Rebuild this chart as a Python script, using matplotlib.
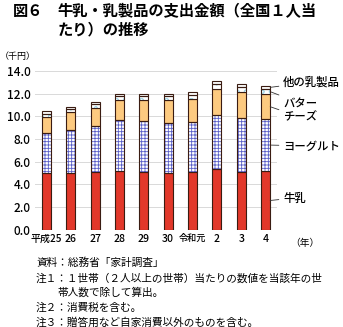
import matplotlib
matplotlib.use('Agg')
import matplotlib.pyplot as plt
import numpy as np

plt.rcParams['font.family'] = ['Noto Sans CJK JP', 'DejaVu Sans']
plt.rcParams['hatch.linewidth'] = 0.6

# データ（千円）
years = ['平成25', '26', '27', '28', '29', '30', '令和元', '2', '3', '4']
milk = [5.00, 5.00, 5.12, 5.18, 5.09, 5.00, 5.09, 5.35, 5.09, 5.18]
yogurt = [3.53, 3.79, 4.03, 4.50, 4.50, 4.41, 4.44, 4.74, 4.76, 4.58]
cheese = [1.41, 1.59, 1.59, 1.76, 1.85, 2.03, 2.03, 2.32, 2.30, 2.18]
butter = [0.30, 0.26, 0.31, 0.33, 0.33, 0.33, 0.36, 0.44, 0.45, 0.47]
other = [0.20, 0.18, 0.21, 0.23, 0.23, 0.23, 0.23, 0.27, 0.28, 0.29]
labels = ['牛乳', 'ヨーグルト', 'チーズ', 'バター', '他の乳製品']

fig = plt.figure(figsize=(3.43, 3.27), dpi=100)
ax = fig.add_axes([0.102, 0.297, 0.706, 0.486])

x = np.arange(len(years))
w = 0.37
edge = '#3a1c12'

series = [milk, yogurt, cheese, butter, other]
bottom = np.zeros(len(years))
for i, vals in enumerate(series):
    vals = np.array(vals)
    if i == 0:
        ax.bar(x, vals, w, bottom=bottom, color='#e2382a', edgecolor=edge, linewidth=0.8, zorder=3)
    elif i == 1:
        ax.bar(x, vals, w, bottom=bottom, color='white', edgecolor='#5a5fc8', hatch='+++++', linewidth=0, zorder=3)
        ax.bar(x, vals, w, bottom=bottom, color='none', edgecolor=edge, linewidth=0.8, zorder=4)
    elif i == 2:
        ax.bar(x, vals, w, bottom=bottom, color='#fdca80', edgecolor=edge, linewidth=0.8, zorder=3)
    elif i == 3:
        ax.bar(x, vals, w, bottom=bottom, color='white', edgecolor='#a8d8e8', hatch='oo', linewidth=0, zorder=3)
        ax.bar(x, vals, w, bottom=bottom, color='none', edgecolor=edge, linewidth=0.8, zorder=4)
    else:
        ax.bar(x, vals, w, bottom=bottom, color='white', edgecolor=edge, linewidth=0.8, zorder=3)
    bottom = bottom + vals

ax.set_xlim(-0.47, len(years) - 0.53)
ax.set_ylim(0, 14)
ax.set_yticks(np.arange(0, 14.1, 2))
ax.set_yticklabels([f'{v:.1f}' for v in np.arange(0, 14.1, 2)], fontsize=8.5, fontweight='medium')
ax.set_xticks(x)
ax.set_xticklabels(years, fontsize=7.6, fontweight='medium')
for t in ax.get_xticklabels():
    if t.get_text() == '令和元':
        t.set_fontsize(6.6)
    if t.get_text() == '平成25':
        t.set_fontsize(7.2)
ax.tick_params(length=0, pad=3)
ax.grid(axis='y', color='#d9d9d9', linewidth=0.7, zorder=0)
for s in ax.spines.values():
    s.set_visible(False)

# 右側ラベル（最終年の棒から引き出し線）
last = len(years) - 1
cum = np.cumsum([np.array(s) for s in series], axis=0)
mids = [cum[i][last] - np.array(series[i])[last] / 2 for i in range(len(series))]
label_y = {0: 129, 1: 181, 2: 210, 3: 224, 4: 245}
for i in range(len(series)):
    ax.annotate(labels[i], xy=(last + w / 2, mids[i]), xytext=(283, label_y[i]),
                textcoords='figure pixels', fontsize=8.2, fontweight='medium',
                va='center', ha='left', annotation_clip=False,
                arrowprops=dict(arrowstyle='-', color='#333333', lw=0.6,
                                shrinkA=1, shrinkB=0))

fig.text(290 / 343, 1 - 243 / 327, '（年）', fontsize=7, va='center', ha='left')
fig.text(0.0, 1 - 57 / 327, '（千円）', fontsize=6.5, va='center', ha='left')

fig.text(13 / 343, 1 - 11 / 327, '図６', fontsize=11, fontweight='bold', va='center', ha='left')
fig.text(58 / 343, 1 - 11 / 327, '牛乳・乳製品の支出金額（全国１人当', fontsize=11,
         fontweight='bold', va='center', ha='left')
fig.text(58 / 343, 1 - 29 / 327, 'たり）の推移', fontsize=11, fontweight='bold',
         va='center', ha='left')

notes = [
    (36, 263, '資料：総務省「家計調査」'),
    (36, 279, '注１：１世帯（２人以上の世帯）当たりの数値を当該年の世'),
    (57, 293, '帯人数で除して算出。'),
    (36, 308, '注２：消費税を含む。'),
    (36, 322, '注３：贈答用など自家消費以外のものを含む。'),
]
for nx, ny, t in notes:
    fig.text(nx / 343, 1 - ny / 327, t, fontsize=7.7, va='center', ha='left')

fig.savefig('out.png', dpi=100)
